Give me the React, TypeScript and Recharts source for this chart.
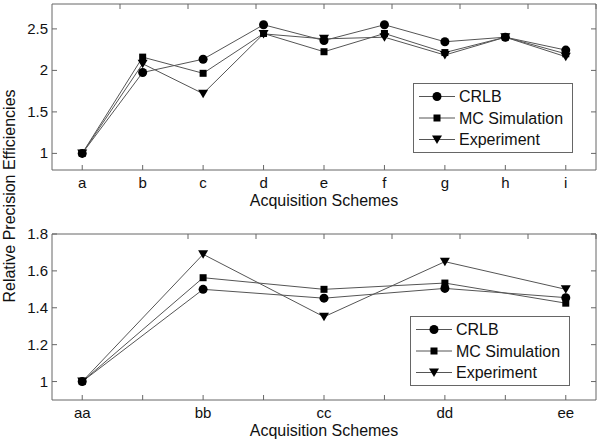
import React from 'react';
import { LineChart, Line, XAxis, YAxis, Legend, Label } from 'recharts';

const schemesTop = ['a', 'b', 'c', 'd', 'e', 'f', 'g', 'h', 'i'];
const crlbTop = [1.0, 1.975, 2.135, 2.55, 2.36, 2.55, 2.345, 2.4, 2.245];
const mcTop = [1.0, 2.16, 1.965, 2.445, 2.225, 2.445, 2.215, 2.4, 2.2];
const expTop = [1.0, 2.08, 1.72, 2.44, 2.38, 2.4, 2.185, 2.4, 2.165];

const schemesBottom = ['aa', 'bb', 'cc', 'dd', 'ee'];
const crlbBottom = [1.0, 1.5, 1.452, 1.505, 1.455];
const mcBottom = [1.0, 1.563, 1.5, 1.534, 1.425];
const expBottom = [1.0, 1.69, 1.351, 1.65, 1.5];

const yTicksTop = [1, 1.5, 2, 2.5];
const yTicksBottom = [1, 1.2, 1.4, 1.6, 1.8];

const seriesNames = ['CRLB', 'MC Simulation', 'Experiment'];
const shapes = ['circle', 'square', 'triangle'];

const FONT = '"Liberation Sans", Arial, sans-serif';
const AXIS = '#666';
const LINE = '#555';

const topData = schemesTop.map((s, i) => ({ x: i + 1, crlb: crlbTop[i], mc: mcTop[i], exp: expTop[i] }));
const bottomData = schemesBottom.map((s, i) => ({ x: i + 1, crlb: crlbBottom[i], mc: mcBottom[i], exp: expBottom[i] }));

const topXTicks = schemesTop.map((_, i) => i + 1);
const bottomXTicks = schemesBottom.flatMap((_, i) => (i === 0 ? [1] : [i + 0.5, i + 1]));

const Marker = ({ shape, cx, cy }: any) => {
  if (shape === 'circle') return <circle cx={cx} cy={cy} r={4.5} fill="#000" />;
  if (shape === 'square') return <rect x={cx - 3.5} y={cy - 3.5} width={7} height={7} fill="#000" />;
  return <path d={`M${cx - 5},${cy - 4}L${cx + 5},${cy - 4}L${cx},${cy + 4.5}Z`} fill="#000" />;
};

const dotFor = (shape: string) => (p: any) => (
  <g key={`${shape}-${p.index}`}>
    <Marker shape={shape} cx={p.cx} cy={p.cy} />
  </g>
);

const BottomTick = ({ x, y, payload, labels }: any) => {
  const v = payload.value;
  const label = Number.isInteger(v) ? labels[v - 1] : '';
  return (
    <g>
      <line x1={x} y1={y} x2={x} y2={y - 5} stroke={AXIS} />
      <text x={x} y={y + 18} textAnchor="middle" fontSize={15} fontFamily={FONT} fill="#111">
        {label}
      </text>
    </g>
  );
};

const TopTick = ({ x, y }: any) => <line x1={x} y1={y} x2={x} y2={y + 5} stroke={AXIS} />;

const LeftTick = ({ x, y, payload }: any) => (
  <g>
    <line x1={x} y1={y} x2={x + 5} y2={y} stroke={AXIS} />
    <text x={x - 4} y={y + 5} textAnchor="end" fontSize={15} fontFamily={FONT} fill="#111">
      {String(payload.value)}
    </text>
  </g>
);

const RightTick = ({ x, y }: any) => <line x1={x} y1={y} x2={x - 5} y2={y} stroke={AXIS} />;

const LegendBox = () => (
  <svg width={160} height={70}>
    <rect x={0.5} y={0.5} width={159} height={69} fill="#fff" stroke={AXIS} />
    {seriesNames.map((name, i) => {
      const cy = 13.5 + i * 21.5;
      return (
        <g key={name}>
          <line x1={6} x2={42} y1={cy} y2={cy} stroke={LINE} />
          <Marker shape={shapes[i]} cx={24} cy={cy} />
          <text x={46} y={cy + 5.5} fontSize={16} fontFamily={FONT} fill="#111">
            {name}
          </text>
        </g>
      );
    })}
  </svg>
);

const Panel = ({ data, labels, xTicks, xDomain, yTicks, yDomain, topPad, bottomPad, legendTop, legendLeft, labelOffset }: any) => (
  <LineChart width={601} height={221} data={data} margin={{ top: 0, right: 0, bottom: 0, left: 0 }}>
    <XAxis
      dataKey="x"
      type="number"
      domain={xDomain}
      ticks={xTicks}
      allowDataOverflow
      height={bottomPad}
      stroke={AXIS}
      tickSize={0}
      tickMargin={0}
      tickLine={false}
      tick={<BottomTick labels={labels} />}
      interval={0}
    >
      <Label value="Acquisition Schemes" position="insideBottom" offset={labelOffset} fontSize={16} fontFamily={FONT} fill="#111" />
    </XAxis>
    <XAxis
      xAxisId="top"
      orientation="top"
      type="number"
      domain={xDomain}
      ticks={xTicks}
      allowDataOverflow
      height={topPad}
      stroke={AXIS}
      tickSize={0}
      tickMargin={0}
      tickLine={false}
      tick={<TopTick />}
      interval={0}
    />
    <YAxis
      type="number"
      domain={yDomain}
      ticks={yTicks}
      allowDataOverflow
      width={52}
      stroke={AXIS}
      tickSize={0}
      tickMargin={0}
      tickLine={false}
      tick={<LeftTick />}
      interval={0}
    />
    <YAxis
      yAxisId="right"
      orientation="right"
      type="number"
      domain={yDomain}
      ticks={yTicks}
      allowDataOverflow
      width={5}
      stroke={AXIS}
      tickSize={0}
      tickMargin={0}
      tickLine={false}
      tick={<RightTick />}
      interval={0}
    />
    <Line dataKey="crlb" name={seriesNames[0]} stroke={LINE} strokeWidth={1} dot={dotFor('circle')} activeDot={false} isAnimationActive={false} />
    <Line dataKey="mc" name={seriesNames[1]} stroke={LINE} strokeWidth={1} dot={dotFor('square')} activeDot={false} isAnimationActive={false} />
    <Line dataKey="exp" name={seriesNames[2]} stroke={LINE} strokeWidth={1} dot={dotFor('triangle')} activeDot={false} isAnimationActive={false} />
    <Legend
      layout="vertical"
      align="center"
      verticalAlign="middle"
      content={LegendBox}
      wrapperStyle={{ left: legendLeft, top: legendTop, width: 160, height: 70 }}
    />
  </LineChart>
);

export default function App() {
  return (
    <div style={{ position: 'absolute', left: 0, top: 0, width: 601, height: 442, background: '#fff' }}>
      <Panel
        data={topData}
        labels={schemesTop}
        xTicks={topXTicks}
        xDomain={[0.5, 9.5]}
        yTicks={yTicksTop}
        yDomain={[0.8, 2.8]}
        topPad={4}
        bottomPad={51}
        legendTop={83}
        legendLeft={413}
        labelOffset={15}
      />
      <Panel
        data={bottomData}
        labels={schemesBottom}
        xTicks={bottomXTicks}
        xDomain={[0.75, 5.25]}
        yTicks={yTicksBottom}
        yDomain={[0.9, 1.8]}
        topPad={13}
        bottomPad={42}
        legendTop={95}
        legendLeft={410}
        labelOffset={6}
      />
      <svg style={{ position: 'absolute', left: 0, top: 0 }} width={30} height={442}>
        <text transform="translate(15,196) rotate(-90)" textAnchor="middle" fontSize={16} fontFamily={FONT} fill="#111">
          Relative Precision Efficiencies
        </text>
      </svg>
    </div>
  );
}
